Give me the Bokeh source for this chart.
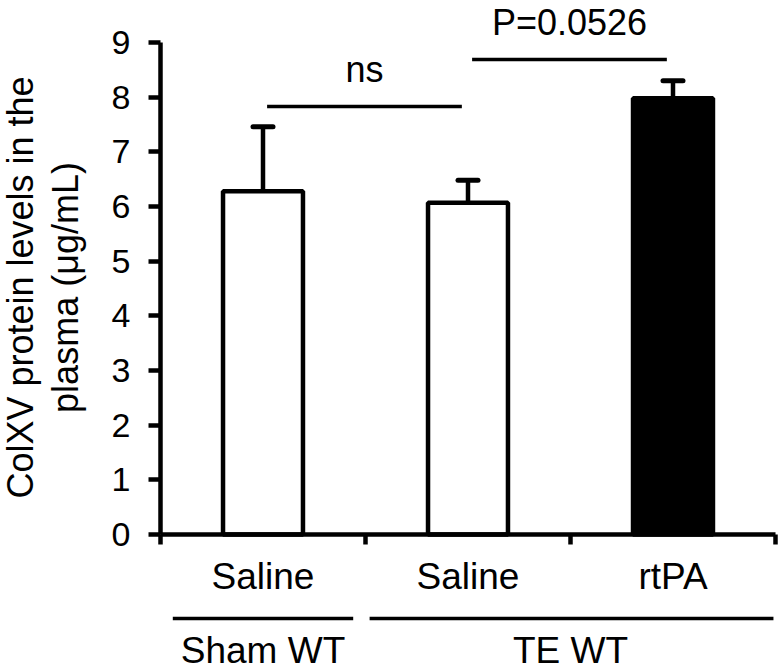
import math
from bokeh.plotting import figure
from bokeh.models import Range1d, FixedTicker, ColumnDataSource
from bokeh.core.properties import value
from bokeh.embed import file_html
from bokeh.resources import INLINE

# ---------------- data ----------------
treatments = ["Saline", "Saline", "rtPA"]
means = [6.28, 6.07, 7.98]
sems = [1.18, 0.41, 0.32]
bar_fill = ["white", "white", "black"]
groups = ["Sham WT", "TE WT"]
group_first = [0, 1]          # index of first category in each group
group_last = [0, 2]           # index of last category in each group
y_ticks = [0, 1, 2, 3, 4, 5, 6, 7, 8, 9]
comp_a = [0, 1]               # comparison: from category
comp_b = [1, 2]               # comparison: to category
comp_y = [7.83, 8.69]         # height of comparison line
comp_text = ["ns", "P=0.0526"]
y_title = ["ColXV protein levels in the", "plasma (\u03bcg/mL)"]

FONT = "Liberation Sans"
W, H = 782, 672
PX = 54.67      # pixels per y unit
ZERO = 534      # pixel row of y = 0
XPX = 205.0     # pixels per category
X0 = 160        # pixel column of x = 0
SHIFT = 12.5    # baseline correction for text glyphs (px)

n = len(treatments)
xc = [i + 0.5 for i in range(n)]

def dy(px):  # pixel distance -> y units
    return px / PX

def dx(px):  # pixel distance -> x units
    return px / XPX

p = figure(width=W, height=H, output_backend="svg", toolbar_location=None,
           x_range=Range1d(-X0 / XPX, (W - X0) / XPX),
           y_range=Range1d(-(H - ZERO) / PX, ZERO / PX),
           x_axis_type=None, min_border_left=0, min_border_right=0,
           min_border_top=0, min_border_bottom=0)
p.outline_line_color = None
p.grid.visible = False
p.background_fill_color = "white"
p.border_fill_color = "white"

yax = p.yaxis[0]
yax.fixed_location = 0
yax.bounds = (0, 9)
yax.ticker = FixedTicker(ticks=y_ticks)
yax.axis_line_width = 4.5
yax.axis_line_color = "black"
yax.major_tick_line_width = 4.5
yax.major_tick_line_color = "black"
yax.major_tick_out = 12
yax.major_tick_in = 0
yax.minor_tick_line_color = None
yax.major_label_text_font = FONT
yax.major_label_text_font_size = "34px"
yax.major_label_text_color = "black"
yax.major_label_standoff = 18

# y axis title, two lines
y_mid = (ZERO - 287) / PX
title_base_px = [32, 77]   # pixel column of each line's baseline
p.text(x=[dx(b - SHIFT - X0) for b in title_base_px], y=[y_mid] * len(y_title),
       text=y_title, angle=math.pi / 2, text_align="center",
       text_baseline="alphabetic", text_font=value(FONT), text_font_size="36px",
       text_color="black")

# bars and error bars (upper only)
src = ColumnDataSource(dict(x=xc, top=means, fill=bar_fill))
up = [m + s for m, s in zip(means, sems)]
cap = dx(10)
p.segment(x0=xc, y0=means, x1=xc, y1=up, line_color="black", line_width=4.5)
p.segment(x0=[x - cap for x in xc], y0=up, x1=[x + cap for x in xc], y1=up,
          line_color="black", line_width=5, line_cap="round")
p.vbar(x="x", top="top", bottom=0, width=0.39, fill_color="fill",
       line_color="black", line_width=4.5, source=src)

# x axis line and ticks
p.segment(x0=[0], y0=[0], x1=[n], y1=[0], line_color="black", line_width=4.5)
p.segment(x0=list(range(n + 1)), y0=[0] * (n + 1), x1=list(range(n + 1)),
          y1=[-dy(10)] * (n + 1), line_color="black", line_width=4.5)

# category labels
p.text(x=xc, y=[-dy(54 - SHIFT)] * n, text=treatments, text_align="center",
       text_baseline="alphabetic", text_font=value(FONT), text_font_size="37px",
       text_color="black")

# group lines and labels
g_x0 = [group_first[0] + 0.06, group_first[1] + 0.02]
g_x1 = [group_last[0] + 1 - 0.06, group_last[1] + 1 - 0.01]
gy = -dy(84)
p.segment(x0=g_x0, y0=[gy] * len(groups), x1=g_x1, y1=[gy] * len(groups),
          line_color="black", line_width=3.5)
g_mid = [(a + b + 1) / 2 for a, b in zip(group_first, group_last)]
p.text(x=g_mid, y=[-dy(128 - SHIFT)] * len(groups), text=groups, text_align="center",
       text_baseline="alphabetic", text_font=value(FONT), text_font_size="37px",
       text_color="black")

# comparison lines
c_x0 = [xc[a] + 0.02 for a in comp_a]
c_x1 = [xc[b] - 0.03 for b in comp_b]
p.segment(x0=c_x0, y0=comp_y, x1=c_x1, y1=comp_y, line_color="black", line_width=3.5)
p.text(x=[(a + b) / 2 for a, b in zip(c_x0, c_x1)], y=[c + dy(24 + SHIFT) for c in comp_y],
       text=comp_text, text_align="center", text_baseline="alphabetic",
       text_font=value(FONT), text_font_size="36px", text_color="black")

open("out.html", "w").write(file_html(p, INLINE))
